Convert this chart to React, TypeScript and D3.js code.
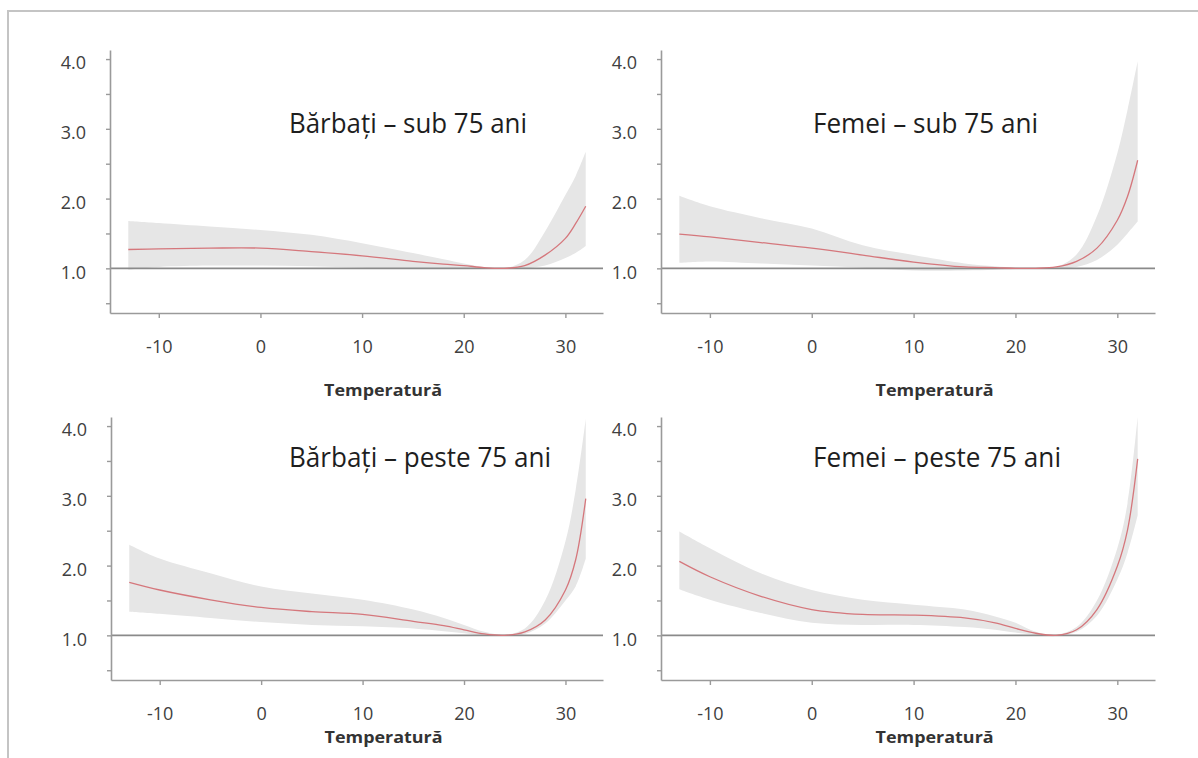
import React, { useRef, useEffect } from 'react';
import * as d3 from 'd3';

// temperature grid (°C)
const temps = [-13, -10, -5, 0, 5, 10, 15, 18, 20, 22, 24, 26, 28, 30, 31, 32];

// Bărbați – sub 75 ani
const menUnderRR = [1.27, 1.28, 1.29, 1.29, 1.24, 1.18, 1.10, 1.06, 1.04, 1.01, 1.0, 1.04, 1.19, 1.43, 1.64, 1.89];
const menUnderHi = [1.68, 1.65, 1.60, 1.55, 1.48, 1.36, 1.22, 1.13, 1.07, 1.02, 1.0, 1.12, 1.53, 2.05, 2.32, 2.67];
const menUnderLo = [0.98, 1.02, 1.04, 1.04, 1.03, 1.01, 0.99, 0.99, 0.99, 0.99, 1.0, 1.0, 1.04, 1.15, 1.22, 1.32];

// Femei – sub 75 ani
const womenUnderRR = [1.49, 1.45, 1.37, 1.29, 1.19, 1.09, 1.02, 1.01, 1.0, 1.0, 1.02, 1.10, 1.29, 1.69, 2.03, 2.55];
const womenUnderHi = [2.04, 1.89, 1.72, 1.57, 1.33, 1.19, 1.07, 1.03, 1.01, 1.0, 1.02, 1.20, 1.75, 2.65, 3.27, 3.97];
const womenUnderLo = [1.08, 1.10, 1.07, 1.04, 1.01, 0.97, 0.97, 0.98, 0.99, 0.99, 1.0, 1.02, 1.12, 1.34, 1.50, 1.67];

// Bărbați – peste 75 ani
const menOverRR = [1.76, 1.65, 1.51, 1.40, 1.34, 1.30, 1.20, 1.14, 1.08, 1.02, 1.0, 1.05, 1.22, 1.65, 2.08, 2.96];
const menOverHi = [2.30, 2.10, 1.89, 1.70, 1.60, 1.51, 1.37, 1.25, 1.15, 1.05, 1.01, 1.10, 1.50, 2.35, 3.08, 4.10];
const menOverLo = [1.34, 1.31, 1.25, 1.19, 1.15, 1.13, 1.10, 1.06, 1.03, 1.0, 0.99, 1.02, 1.17, 1.50, 1.70, 2.10];

// Femei – peste 75 ani
const womenOverRR = [2.06, 1.84, 1.56, 1.37, 1.30, 1.29, 1.25, 1.18, 1.10, 1.03, 1.0, 1.08, 1.37, 1.99, 2.51, 3.53];
const womenOverHi = [2.49, 2.25, 1.89, 1.65, 1.51, 1.44, 1.37, 1.27, 1.18, 1.05, 1.01, 1.12, 1.50, 2.25, 2.89, 4.13];
const womenOverLo = [1.66, 1.51, 1.32, 1.18, 1.15, 1.15, 1.12, 1.08, 1.04, 1.01, 0.99, 1.05, 1.28, 1.80, 2.18, 2.72];

const xTicks = [-10, 0, 10, 20, 30];
const yTicks = [0.5, 1, 1.5, 2, 2.5, 3, 3.5, 4];
const xLabel = 'Temperatură';

const panels = [
    { title: 'Bărbați – sub 75 ani', rr: menUnderRR, hi: menUnderHi, lo: menUnderLo,
      left: 110, right: 603, top: 50, bottom: 313, titleX: 289, titleY: 133, titleW: 238, labelY: 396 },
    { title: 'Femei – sub 75 ani', rr: womenUnderRR, hi: womenUnderHi, lo: womenUnderLo,
      left: 661, right: 1155, top: 50, bottom: 313, titleX: 813, titleY: 133, titleW: 225, labelY: 396 },
    { title: 'Bărbați – peste 75 ani', rr: menOverRR, hi: menOverHi, lo: menOverLo,
      left: 111, right: 603, top: 417, bottom: 680, titleX: 289, titleY: 467, titleW: 262, labelY: 743 },
    { title: 'Femei – peste 75 ani', rr: womenOverRR, hi: womenOverHi, lo: womenOverLo,
      left: 661, right: 1155, top: 417, bottom: 680, titleX: 813, titleY: 467, titleW: 248, labelY: 743 },
];

const App = () => {
    const ref = useRef(null);

    useEffect(() => {
        const svg = d3.select(ref.current);
        svg.selectAll('*').remove();

        // frame
        svg.append('path')
            .attr('d', 'M8,758 L8,11 L1198,11')
            .attr('fill', 'none')
            .attr('stroke', '#c4c4c4')
            .attr('stroke-width', 2);

        panels.forEach((p, i) => {
            const x = d3.scaleLinear().domain([-14.8, 33.7]).range([p.left, p.right]);
            const y = d3.scaleLinear().domain([0.36, 4.13]).range([p.bottom, p.top]);
            const g = svg.append('g');

            const clipId = `clip-${i}`;
            g.append('clipPath').attr('id', clipId)
                .append('rect')
                .attr('x', p.left).attr('y', p.top)
                .attr('width', p.right - p.left).attr('height', p.bottom - p.top);

            const rows = temps.map((t, k) => ({ t, rr: p.rr[k], hi: p.hi[k], lo: p.lo[k] }));
            const curve = d3.curveCatmullRom.alpha(0.5);

            const area = d3.area()
                .x(d => x(d.t))
                .y0(d => y(d.lo))
                .y1(d => y(d.hi))
                .curve(curve);

            g.append('path')
                .datum(rows)
                .attr('clip-path', `url(#${clipId})`)
                .attr('fill', '#e6e6e6')
                .attr('d', area);

            // reference line at RR = 1
            g.append('line')
                .attr('x1', p.left).attr('x2', p.right)
                .attr('y1', y(1)).attr('y2', y(1))
                .attr('stroke', '#8a8a8a')
                .attr('stroke-width', 1.6);

            const line = d3.line()
                .x(d => x(d.t))
                .y(d => y(d.rr))
                .curve(curve);

            g.append('path')
                .datum(rows)
                .attr('fill', 'none')
                .attr('stroke', '#d5777c')
                .attr('stroke-width', 1.3)
                .attr('d', line);

            const yAxis = g.append('g')
                .attr('transform', `translate(${p.left},0)`)
                .call(d3.axisLeft(y)
                    .tickValues(yTicks)
                    .tickSize(4)
                    .tickSizeOuter(0)
                    .tickPadding(20)
                    .tickFormat(d => Number.isInteger(d) ? d3.format('.1f')(d) : ''));

            const xAxis = g.append('g')
                .attr('transform', `translate(0,${p.bottom})`)
                .call(d3.axisBottom(x)
                    .tickValues(xTicks)
                    .tickSize(5)
                    .tickSizeOuter(0)
                    .tickPadding(22)
                    .tickFormat(d => String(d)));

            [yAxis, xAxis].forEach(a => {
                a.select('.domain').attr('stroke', '#9a9a9a').attr('stroke-width', 1.6);
                a.selectAll('.tick line').attr('stroke', '#9a9a9a').attr('stroke-width', 1.4);
                a.selectAll('.tick text')
                    .attr('fill', '#404040')
                    .style('font-family', '"Open Sans", sans-serif')
                    .style('font-size', '18px');
            });
            yAxis.selectAll('.tick text').attr('dy', '0.55em');

            g.append('text')
                .attr('x', (x(-10) + x(30)) / 2 + 21)
                .attr('y', p.labelY)
                .attr('text-anchor', 'middle')
                .attr('fill', '#333')
                .style('font-family', '"Open Sans", sans-serif')
                .style('font-weight', 'bold')
                .style('font-size', '16px')
                .attr('textLength', 118)
                .attr('lengthAdjust', 'spacingAndGlyphs')
                .text(xLabel);

            g.append('text')
                .attr('x', p.titleX)
                .attr('y', p.titleY)
                .attr('fill', '#1e1e1e')
                .style('font-family', '"Open Sans", sans-serif')
                .style('font-size', '27px')
                .attr('textLength', p.titleW)
                .attr('lengthAdjust', 'spacingAndGlyphs')
                .text(p.title);
        });
    }, []);

    return (
        <svg ref={ref} width={1198} height={758}
            style={{ position: 'absolute', left: 0, top: 0, background: '#fff' }} />
    );
};

export default App;
